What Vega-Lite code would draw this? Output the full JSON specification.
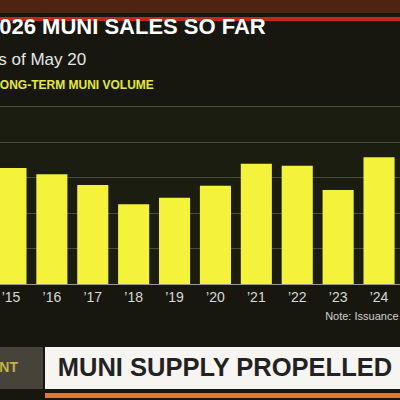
{
  "$schema": "https://vega.github.io/schema/vega-lite/v6.json",
  "padding": {"left": -15, "top": 0, "right": 0, "bottom": 0},
  "background": "#17170f",
  "config": {
    "view": {"stroke": null},
    "font": "Liberation Sans"
  },
  "spacing": -8,
  "vconcat": [
    {
      "spacing": 0,
      "vconcat": [
        {
          "width": 420, "height": 13,
          "view": {"fill": "#4e2410"},
          "data": {"values": [{"t": ""}]},
          "mark": {"type": "text"},
          "encoding": {"text": {"field": "t"}}
        },
        {
          "width": 420, "height": 4,
          "view": {"fill": "#c4281a"},
          "data": {"values": [{"t": ""}]},
          "mark": {"type": "text"},
          "encoding": {"text": {"field": "t"}}
        }
      ]
    },
    {
      "spacing": 26,
      "vconcat": [
        {
          "width": 420,
          "height": 178,
          "view": {"fill": "#1b1d10"},
          "title": {
            "text": "2026 MUNI SALES SO FAR",
            "subtitle": "As of May 20",
            "anchor": "start",
            "dx": 2,
            "fontSize": 22,
            "fontWeight": "bold",
            "color": "#ffffff",
            "subtitleFontSize": 17,
            "subtitleColor": "#e6e6e6",
            "subtitlePadding": 13,
            "offset": 9,
            "font": "Liberation Sans",
            "subtitleFont": "Liberation Sans"
          },
          "data": {
            "values": [
              {"year": "’15", "volume": 163},
              {"year": "’16", "volume": 154},
              {"year": "’17", "volume": 139},
              {"year": "’18", "volume": 112},
              {"year": "’19", "volume": 121},
              {"year": "’20", "volume": 138},
              {"year": "’21", "volume": 169},
              {"year": "’22", "volume": 166},
              {"year": "’23", "volume": 132},
              {"year": "’24", "volume": 178}
            ]
          },
          "mark": {"type": "bar", "color": "#f5f23c"},
          "encoding": {
            "x": {
              "field": "year", "type": "nominal", "sort": null,
              "scale": {"paddingInner": 0.24, "paddingOuter": 0.255},
              "axis": {
                "title": "Note: Issuance",
                "titleAnchor": "end",
                "titleAlign": "right",
                "titleX": 413,
                "titleFontSize": 11,
                "titleFontWeight": "normal",
                "titleColor": "#d0d0d0",
                "titlePadding": 6,
                "labelAngle": 0,
                "labelFontSize": 14,
                "labelColor": "#d8d8d8",
                "labelPadding": 6,
                "ticks": false,
                "domainColor": "#9a9a90",
                "domainWidth": 1
              }
            },
            "y": {
              "field": "volume", "type": "quantitative",
              "scale": {"domain": [0, 250], "nice": false},
              "axis": {
                "title": "LONG-TERM MUNI VOLUME",
                "titleAngle": 0,
                "titleAlign": "left",
                "titleBaseline": "alphabetic",
                "titleX": 7,
                "titleY": -18,
                "titleFontSize": 12,
                "titleFontWeight": "bold",
                "titleColor": "#e6ea3a",
                "values": [0, 50, 100, 150, 200, 250],
                "labels": false,
                "ticks": false,
                "domain": false,
                "grid": true,
                "gridColor": "#4c4c42",
                "gridWidth": 1
              }
            }
          }
        },
        {
          "spacing": 2,
          "hconcat": [
            {
              "width": 58, "height": 42,
              "view": {"fill": "#48433a"},
              "data": {"values": [{"t": "NT"}]},
              "mark": {"type": "text", "fontSize": 14, "fontWeight": "bold", "color": "#c2b444", "align": "right", "baseline": "middle", "dx": 4},
              "encoding": {"text": {"field": "t"}}
            },
            {
              "spacing": 0,
              "vconcat": [
                {
                  "width": 360, "height": 42,
                  "view": {"fill": "#f7f5f1"},
                  "data": {"values": [{"t": "MUNI SUPPLY PROPELLED"}]},
                  "mark": {"type": "text", "fontSize": 25.5, "fontWeight": "bold", "color": "#222222", "baseline": "middle"},
                  "encoding": {"text": {"field": "t"}}
                },
                {
                  "width": 360, "height": 5,
                  "view": {"fill": "#e07a2a"},
                  "data": {"values": [{"t": ""}]},
                  "mark": {"type": "text"},
                  "encoding": {"text": {"field": "t"}}
                }
              ]
            }
          ]
        }
      ]
    }
  ]
}
